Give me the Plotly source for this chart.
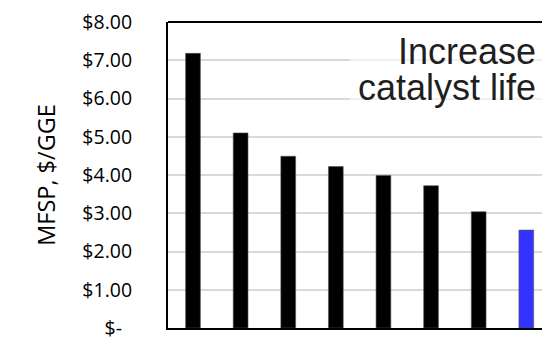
import plotly.graph_objects as go

# Minimum fuel selling price after each improvement step
cases = ["Case 1", "Case 2", "Case 3", "Case 4", "Case 5", "Case 6", "Case 7", "Case 8"]
mfsp = [7.18, 5.10, 4.49, 4.22, 3.99, 3.72, 3.04, 2.56]
bar_colors = ["#000000"] * 7 + ["#3333FF"]

tick_vals = [0, 1, 2, 3, 4, 5, 6, 7, 8]
tick_text = ["$-\u00a0\u00a0", "$1.00", "$2.00", "$3.00", "$4.00",
             "$5.00", "$6.00", "$7.00", "$8.00"]

note_lines = ["Increase", "catalyst life"]

fig = go.Figure(
    go.Bar(
        x=cases,
        y=mfsp,
        marker=dict(color=bar_colors, line=dict(width=0.6, color="#555555")),
        width=0.31,
    )
)

fig.update_layout(
    width=542,
    height=337,
    margin=dict(l=168, r=0, t=22, b=9, autoexpand=False),
    paper_bgcolor="white",
    plot_bgcolor="white",
    showlegend=False,
    font=dict(family="Open Sans", color="#000000"),
)

fig.update_xaxes(
    range=[-0.525, 7.33],
    showticklabels=False,
    showgrid=False,
    showline=True,
    linecolor="#000000",
    linewidth=2,
    ticks="",
    zeroline=False,
    automargin=False,
)

fig.update_yaxes(
    range=[0, 8],
    tickvals=tick_vals,
    ticktext=tick_text,
    tickfont=dict(family="Open Sans", size=19.5, color="#000000"),
    ticks="",
    ticklabelstandoff=30,
    ticklabeloverflow="allow",
    showgrid=True,
    gridcolor="#D9D9D9",
    gridwidth=2,
    showline=True,
    linecolor="#000000",
    linewidth=2,
    zeroline=False,
    automargin=False,
    title=dict(text="MFSP, $/GGE", font=dict(family="Open Sans", size=23.5, color="#000000"),
               standoff=20),
)

# top edge of the plot frame
fig.add_shape(type="line", xref="paper", yref="paper", x0=0, x1=1, y0=1, y1=1,
              line=dict(color="#000000", width=2), layer="above")

# translucent text box behind the note
fig.add_shape(type="rect", xref="paper", yref="y", x0=0.487, x1=1.0, y0=5.58, y1=7.72,
              fillcolor="rgba(255,255,255,0.6)", line=dict(width=0), layer="above")

for line, yv in zip(note_lines, [7.23, 6.28]):
    fig.add_annotation(
        text=line, xref="paper", yref="y", x=0.99, y=yv,
        xanchor="right", yanchor="middle", showarrow=False,
        font=dict(family="Liberation Sans, Arial", size=36, color="#1F1F1F"),
    )

fig.write_html("out.html")
